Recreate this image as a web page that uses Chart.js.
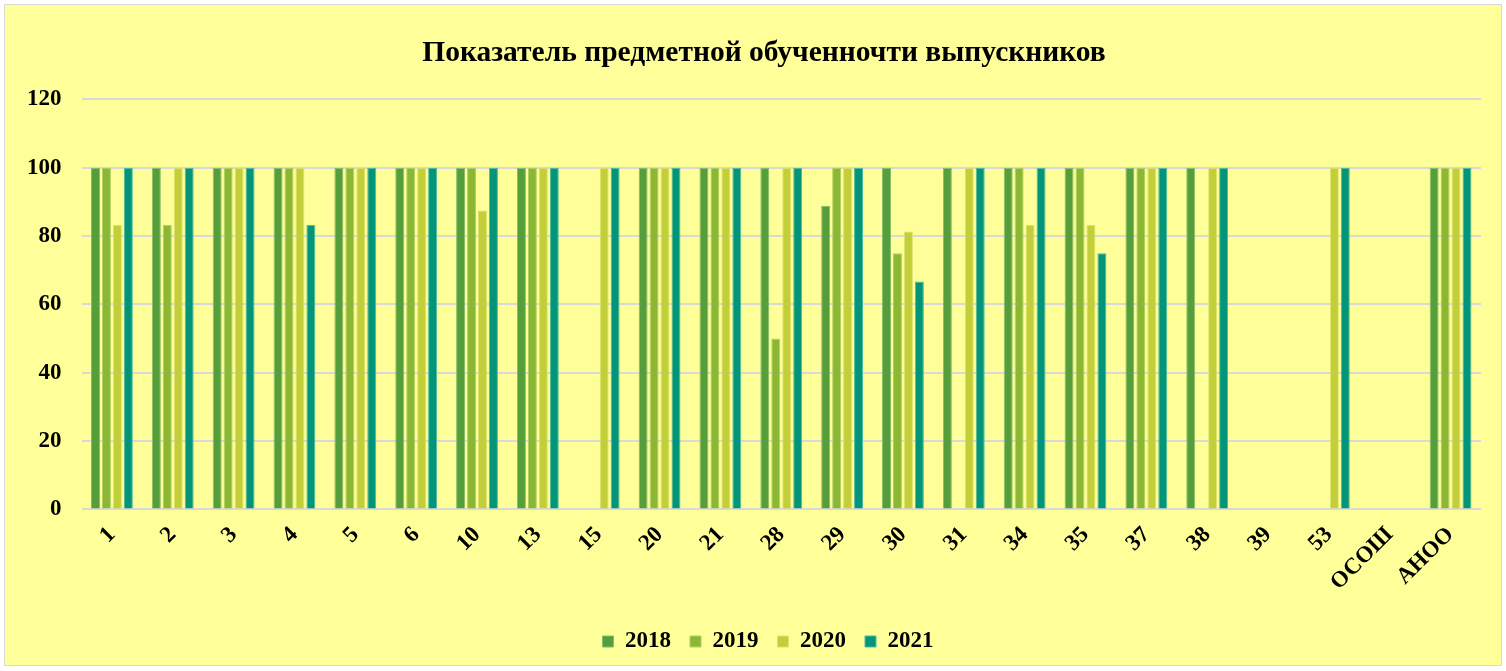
<!DOCTYPE html>
<html>
<head>
<meta charset="utf-8">
<script src="https://cdn.jsdelivr.net/npm/chart.js@4"></script>
<style>
  html, body { margin: 0; padding: 0; background: #fff; }
  #wrap {
    position: absolute; left: 4px; top: 4px; width: 1498px; height: 662px;
    background: #FFFF99; border: 1px solid #d9d9d9; box-sizing: border-box;
  }
  canvas { display: block; }
</style>
</head>
<body>
<div id="wrap"><canvas id="chart" width="1496" height="660"></canvas></div>
<script>
const schools = ["1", "2", "3", "4", "5", "6", "10", "13", "15", "20", "21", "28", "29", "30", "31", "34", "35", "37", "38", "39", "53", "ОСОШ", "АНОО"];
const years = ["2018", "2019", "2020", "2021"];
const v2018 = [100, 100, 100, 100, 100, 100, 100, 100, null, 100, 100, 100, 88.9, 100, 100, 100, 100, 100, 100, null, null, null, 100];
const v2019 = [100, 83.3, 100, 100, 100, 100, 100, 100, null, 100, 100, 50, 100, 75, null, 100, 100, 100, null, null, null, null, 100];
const v2020 = [83.3, 100, 100, 100, 100, 100, 87.5, 100, 100, 100, 100, 100, 100, 81.3, 100, 83.3, 83.3, 100, 100, null, 100, null, 100];
const v2021 = [100, 100, 100, 83.3, 100, 100, 100, 100, 100, 100, 100, 100, 100, 66.7, 100, 100, 75, 100, 100, null, 100, null, 100];
const yTicks = [0, 20, 40, 60, 80, 100, 120];

const colors = ["#559E3B", "#8BB734", "#C2CE3A", "#03957A"];
const borders = ["#86bd6a", "#b0d067", "#dbe36e", "#4dbb9e"];
const series = [v2018, v2019, v2020, v2021];

const font = "'Liberation Serif', 'Times New Roman', serif";

// title and legend sit a bit right of the canvas centre in the original
const shiftBoxes = {
  id: "shiftBoxes",
  afterLayout(chart) {
    if (chart.titleBlock) { chart.titleBlock.left += 20; chart.titleBlock.right += 20; }
    if (chart.legend) { chart.legend.left += 24; chart.legend.right += 24; }
  }
};

new Chart(document.getElementById("chart"), {
  type: "bar",
  data: {
    labels: schools,
    datasets: years.map((y, i) => ({
      label: y,
      data: series[i],
      backgroundColor: colors[i],
      borderColor: borders[i],
      borderWidth: 1,
      barPercentage: 0.82,
      categoryPercentage: 0.72
    }))
  },
  options: {
    responsive: false,
    animation: false,
    layout: { padding: { left: 2, right: 20, top: 10, bottom: 2 } },
    plugins: {
      title: {
        display: true,
        text: "Показатель предметной обученночти выпускников",
        color: "#000",
        font: { family: font, size: 29.5, weight: "bold" },
        padding: { top: 21, bottom: 28 }
      },
      legend: {
        position: "bottom",
        labels: {
          color: "#000",
          font: { family: font, size: 23, weight: "bold" },
          boxWidth: 11,
          boxHeight: 11,
          padding: 19
        }
      },
      tooltip: { enabled: false }
    },
    scales: {
      x: {
        grid: { display: false },
        border: { display: false },
        afterFit: s => { s.height += 11; },
        ticks: {
          color: "#000",
          font: { family: font, size: 23, weight: "bold" },
          minRotation: 45,
          maxRotation: 45,
          padding: 4
        }
      },
      y: {
        min: 0,
        max: 120,
        afterBuildTicks: axis => { axis.ticks = yTicks.map(v => ({ value: v })); },
        grid: { color: "#d9d9d9", lineWidth: 2, drawTicks: false },
        border: { display: false },
        ticks: {
          color: "#000",
          font: { family: font, size: 23, weight: "bold" },
          padding: 20
        }
      }
    }
  },
  plugins: [shiftBoxes]
});
</script>
</body>
</html>
